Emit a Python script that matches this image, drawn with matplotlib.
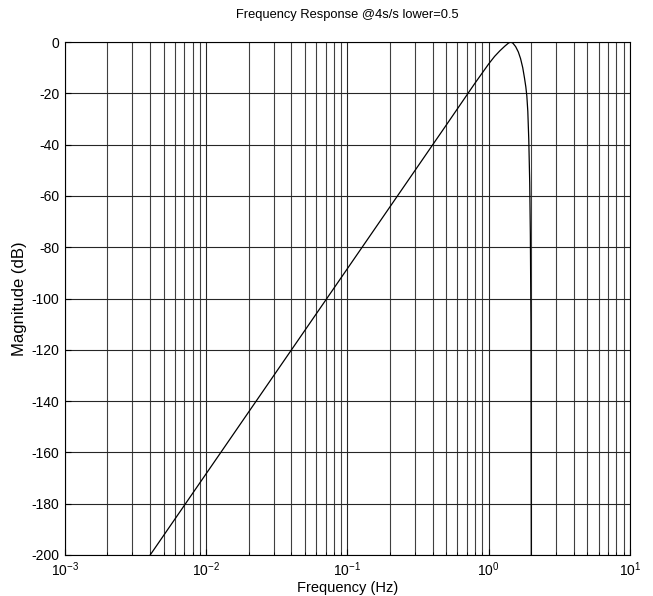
import matplotlib
matplotlib.use("Agg")
import matplotlib.pyplot as plt
from matplotlib.ticker import LogLocator, NullFormatter

# magnitude response (Hz, dB)
freq = [0.00401, 0.5, 0.8, 1.0, 1.1, 1.2, 1.3, 1.38, 1.43, 1.48, 1.55,
        1.62, 1.68, 1.74, 1.79, 1.83, 1.86, 1.89, 1.92, 1.95, 1.97, 1.99, 2.0]
mag = [-200, -32.4, -16.0, -8.5, -5.6, -3.4, -1.6, -0.4, 0.0, -0.4, -1.8,
       -3.9, -6.5, -10.0, -14.0, -17.5, -21.0, -27.0, -38.0, -55.0, -75.0,
       -110.0, -200]

yticks = [0, -20, -40, -60, -80, -100, -120, -140, -160, -180, -200]
xticks = [1e-3, 1e-2, 1e-1, 1e0, 1e1]
xticklabels = [r"$10^{-3}$", r"$10^{-2}$", r"$10^{-1}$", r"$10^{0}$", r"$10^{1}$"]

plt.rcParams['font.family'] = ['Liberation Sans', 'DejaVu Sans']
plt.rcParams['mathtext.fontset'] = 'custom'
plt.rcParams['mathtext.rm'] = 'Liberation Sans'
plt.rcParams['mathtext.it'] = 'Liberation Sans'
plt.rcParams['axes.unicode_minus'] = False

fig = plt.figure(figsize=(6.53, 5.96), dpi=100)
ax = fig.add_axes([0.0995, 0.0688, 0.8653, 0.8607])

ax.plot(freq, mag, color="black", lw=0.9)

ax.set_xscale("log")
ax.set_xlim(1e-3, 1e1)
ax.set_ylim(-200, 0)
ax.set_xticks(xticks)
ax.set_xticklabels(xticklabels)
ax.xaxis.set_minor_locator(LogLocator(base=10, subs=range(2, 10)))
ax.xaxis.set_minor_formatter(NullFormatter())
ax.set_yticks(yticks)

ax.grid(True, which="major", axis="both", color="0.15", lw=0.8)
ax.grid(True, which="minor", axis="x", color="0.25", lw=0.8)
ax.tick_params(which="both", direction="in", labelsize=10, length=4)
ax.tick_params(axis="y", pad=4)
ax.tick_params(axis="x", pad=4)
ax.tick_params(which="minor", length=2)
for s in ax.spines.values():
    s.set_linewidth(0.8)

ax.set_title("Frequency Response @4s/s lower=0.5", fontsize=9.3, pad=17)
ax.set_xlabel("Frequency (Hz)", fontsize=10.5, labelpad=1)
ax.set_ylabel("Magnitude (dB)", fontsize=12, labelpad=3)

fig.savefig("out.png", dpi=100)
